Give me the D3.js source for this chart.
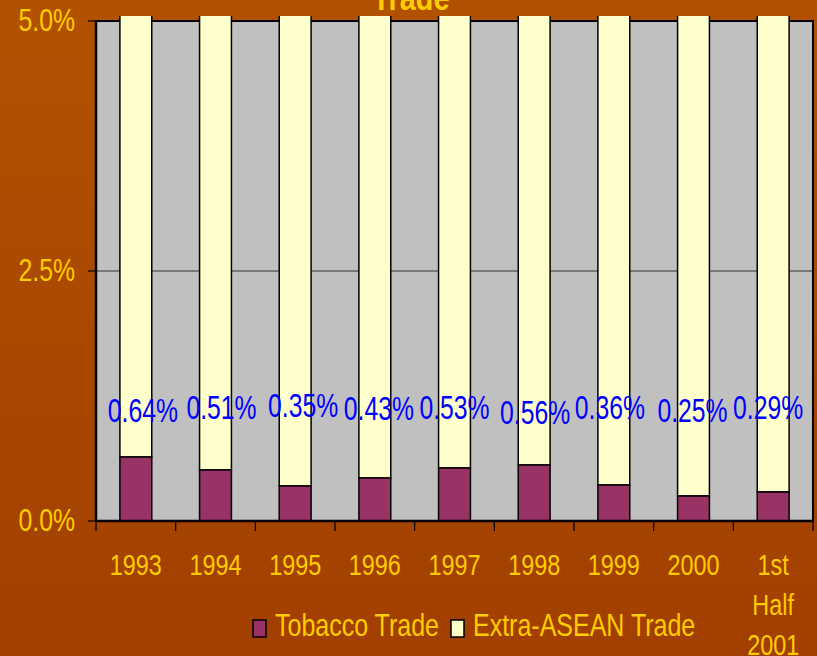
<!DOCTYPE html>
<html lang="en">
  <head>
    <meta charset="utf-8">
    <script src="https://d3js.org/d3.v7.min.js"></script>
    <title>Tobacco Trade vs Extra-ASEAN Trade</title>
    <style>
      body { margin: 0; }
      text { font-family: "Liberation Sans", Arial, sans-serif; }
    </style>
  </head>
  <body>
    <script>

      var categories = ["1993", "1994", "1995", "1996", "1997", "1998", "1999", "2000", "1st\nHalf\n2001"];
      var tobacco = [0.64, 0.51, 0.35, 0.43, 0.53, 0.56, 0.36, 0.25, 0.29];
      var totalTrade = [100, 100, 100, 100, 100, 100, 100, 100, 100];
      var yTicks = [0, 2.5, 5];
      var legendItems = ["Tobacco Trade", "Extra-ASEAN Trade"];

      var width = 817, height = 656;
      var plotLeft = 96, plotRight = 813, plotTop = 21, plotBottom = 521;

      // hand-placed label nudges in the original (layout only)
      var labelDx = [7, 6, 8, 4, 0, 1, -4, -1, -5];
      var labelDy = [2, -1, -3, 0, -1, 4, -1, 2, -1];

      var yellowText = "#FFCC00";
      var colors = { tobacco: "#993366", extra: "#FFFFCC", plot: "#C0C0C0" };

      var svg = d3.select("body").append("svg")
        .attr("width", width)
        .attr("height", height);

      var defs = svg.append("defs");
      var grad = defs.append("linearGradient")
        .attr("id", "bg").attr("x1", 0).attr("y1", 0).attr("x2", 0).attr("y2", 1);
      grad.append("stop").attr("offset", "0%").attr("stop-color", "#B25200");
      grad.append("stop").attr("offset", "100%").attr("stop-color", "#A23F00");

      defs.append("clipPath").attr("id", "barclip")
        .append("rect").attr("x", 0).attr("y", 16).attr("width", width).attr("height", height);

      svg.append("rect").attr("width", width).attr("height", height).attr("fill", "url(#bg)");

      var x = d3.scaleBand().domain(categories).range([plotLeft, plotRight])
        .paddingInner(0.6).paddingOuter(0.3);
      var step = x.step();
      var y = d3.scaleLinear().domain([0, 5]).range([plotBottom, plotTop]);

      // the original text is narrow (taller than wide), so squash it horizontally
      function label(g, txt, cx, by, size, squash, color, weight, anchor) {
        return g.append("text")
          .attr("transform", "translate(" + cx + "," + by + ") scale(" + squash + ",1)")
          .attr("text-anchor", anchor || "middle")
          .attr("font-size", size)
          .attr("font-weight", weight || "normal")
          .attr("fill", color)
          .text(txt);
      }

      // title (mostly cut off at the top of the picture)
      label(svg, "Trade", 411, 10, 36, 0.8, yellowText, "bold");

      // plot area
      svg.append("rect")
        .attr("x", plotLeft).attr("y", plotTop)
        .attr("width", plotRight - plotLeft).attr("height", plotBottom - plotTop)
        .attr("fill", colors.plot);

      svg.selectAll(".grid").data(yTicks.filter(function (d) { return d > 0 && d < 5; }))
        .enter().append("line")
        .attr("x1", plotLeft).attr("x2", plotRight)
        .attr("y1", function (d) { return y(d); })
        .attr("y2", function (d) { return y(d); })
        .attr("stroke", "#333").attr("stroke-width", 1);

      svg.append("rect")
        .attr("x", plotLeft).attr("y", plotTop)
        .attr("width", plotRight - plotLeft).attr("height", plotBottom - plotTop)
        .attr("fill", "none").attr("stroke", "#000").attr("stroke-width", 2);

      var bars = svg.append("g").attr("clip-path", "url(#barclip)");

      bars.selectAll(".extra").data(categories).enter().append("rect")
        .attr("x", function (d) { return x(d); })
        .attr("width", x.bandwidth())
        .attr("y", function (d, i) { return y(totalTrade[i]); })
        .attr("height", function (d, i) { return y(tobacco[i]) - y(totalTrade[i]); })
        .attr("fill", colors.extra)
        .attr("stroke", "#000").attr("stroke-width", 1.5);

      bars.selectAll(".tob").data(categories).enter().append("rect")
        .attr("x", function (d) { return x(d); })
        .attr("width", x.bandwidth())
        .attr("y", function (d, i) { return y(tobacco[i]); })
        .attr("height", function (d, i) { return y(0) - y(tobacco[i]); })
        .attr("fill", colors.tobacco)
        .attr("stroke", "#000").attr("stroke-width", 1.5);

      // value labels
      categories.forEach(function (c, i) {
        label(svg, tobacco[i].toFixed(2) + "%", x(c) + x.bandwidth() / 2 + labelDx[i], 420 + labelDy[i],
          33, 0.75, "#0000FF");
      });

      // axis lines and ticks
      svg.append("line").attr("x1", plotLeft).attr("x2", plotRight).attr("y1", plotBottom).attr("y2", plotBottom)
        .attr("stroke", "#000").attr("stroke-width", 2.5);
      svg.append("line").attr("x1", plotLeft).attr("x2", plotLeft).attr("y1", plotTop).attr("y2", plotBottom)
        .attr("stroke", "#000").attr("stroke-width", 2.5);

      d3.range(categories.length + 1).forEach(function (i) {
        var tx = plotLeft + i * step;
        svg.append("line").attr("x1", tx).attr("x2", tx).attr("y1", plotBottom).attr("y2", plotBottom + 10)
          .attr("stroke", "#000").attr("stroke-width", 1.2);
      });

      yTicks.forEach(function (t) {
        svg.append("line").attr("x1", plotLeft - 8).attr("x2", plotLeft).attr("y1", y(t)).attr("y2", y(t))
          .attr("stroke", "#000").attr("stroke-width", 1.2);
        label(svg, t.toFixed(1) + "%", 75, y(t) + 10, 31, 0.8, yellowText, "normal", "end");
      });

      // category labels
      categories.forEach(function (c) {
        c.split("\n").forEach(function (line, k) {
          label(svg, line, x(c) + x.bandwidth() / 2, 575 + k * 40, 30, 0.78, yellowText);
        });
      });

      // legend
      var legendX = [253, 451];
      var legendFill = [colors.tobacco, colors.extra];
      legendItems.forEach(function (name, i) {
        svg.append("rect").attr("x", legendX[i]).attr("y", 620).attr("width", 13).attr("height", 17)
          .attr("fill", legendFill[i]).attr("stroke", "#000").attr("stroke-width", 1.5);
        label(svg, name, legendX[i] + 22, 636, 30.5, 0.82, yellowText, "normal", "start");
      });

    </script>
  </body>
</html>
